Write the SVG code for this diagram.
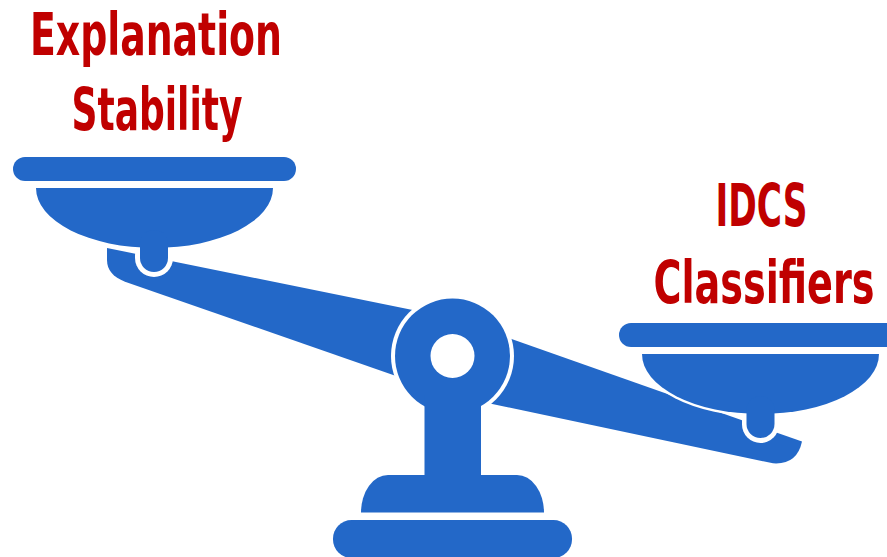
<svg xmlns="http://www.w3.org/2000/svg" width="887" height="557" viewBox="0 0 887 557">
  <style>
    .part { fill: #2368c8; }
    .gap { fill: #ffffff; }
    .label { font-family: "Liberation Sans Narrow", "DejaVu Sans Condensed", "Liberation Sans", sans-serif; font-weight: bold; font-size: 58px; fill: #c00000; text-anchor: middle; }
  </style>

  <!-- balance beam -->
  <path class="part" d="M107,248 L452,318 L802,441.5 Q797,465 773,463.3 L452,395.5 L125,281.7 C113,277 107,270 107,260 Z"/>

  <!-- white halos around the pan hooks and the right pan where they overlap the beam -->
  <rect class="gap" x="135" y="236" width="38" height="41" rx="19"/>
  <rect class="gap" x="742" y="402" width="37" height="41" rx="18.5"/>
  <ellipse class="gap" cx="760.5" cy="354" rx="121" ry="62.5"/>

  <!-- left pan -->
  <g id="left-pan">
    <rect class="part" x="13" y="157" width="283" height="24" rx="12"/>
    <path class="part" d="M36,188 H273 A118.5,60 0 0 1 36,188 Z"/>
    <rect class="part" x="140" y="230" width="28" height="42" rx="14"/>
  </g>

  <!-- right pan -->
  <g id="right-pan">
    <rect class="part" x="619" y="323" width="290" height="24" rx="12"/>
    <path class="part" d="M642,354 H879 A118.5,60 0 0 1 642,354 Z"/>
    <rect class="part" x="746.5" y="396" width="28" height="42" rx="14"/>
  </g>

  <!-- pivot and stand -->
  <g id="stand">
    <circle class="gap" cx="452.5" cy="356" r="61.5"/>
    <circle class="part" cx="452.5" cy="356" r="57.5"/>
    <circle class="gap" cx="452.5" cy="356" r="22"/>
    <rect class="part" x="424.5" y="395" width="56.5" height="85"/>
    <path class="part" d="M361,512.5 A27,37.5 0 0 1 388,475 H517 A27,37.5 0 0 1 544,512.5 Z"/>
    <rect class="part" x="333" y="520" width="239" height="38" rx="18.5"/>
  </g>

  <!-- labels -->
  <g id="label-left">
    <text class="label" x="156" y="55" textLength="252" lengthAdjust="spacingAndGlyphs">Explanation</text>
    <text class="label" x="157" y="130" textLength="171" lengthAdjust="spacingAndGlyphs">Stability</text>
  </g>
  <g id="label-right">
    <text class="label" x="761.5" y="226" textLength="92" lengthAdjust="spacingAndGlyphs">IDCS</text>
    <text class="label" x="764" y="303" textLength="221" lengthAdjust="spacingAndGlyphs">Classifiers</text>
  </g>
</svg>
